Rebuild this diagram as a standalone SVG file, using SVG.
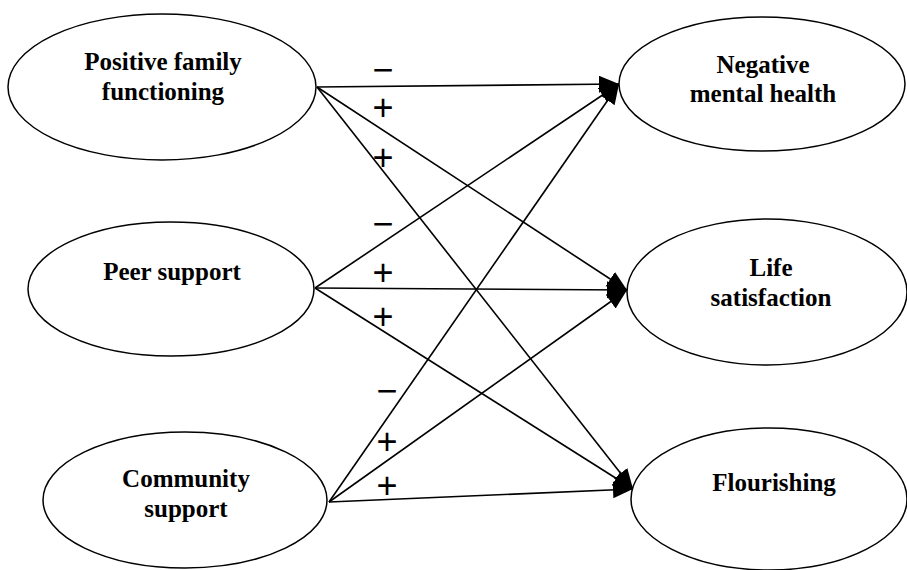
<svg xmlns="http://www.w3.org/2000/svg" width="907" height="570" viewBox="0 0 907 570">
  <style>
    .node ellipse { fill: #fff; stroke: #000; stroke-width: 1.5; }
    .node text { font-family: "Times New Roman", Times, "Liberation Serif", serif; font-weight: bold; font-size: 25px; text-anchor: middle; fill: #000; }
    .edge { stroke: #000; stroke-width: 1.6; fill: none; marker-end: url(#head); }
    .sign { font-family: "Liberation Sans", Arial, sans-serif; font-size: 36px; font-weight: 400; text-anchor: middle; fill: #000; }
  </style>
  <defs>
    <marker id="head" markerUnits="userSpaceOnUse" markerWidth="22" markerHeight="18" refX="20" refY="8.5" orient="auto" viewBox="0 0 22 18">
      <path d="M0,0 L20,8.5 L0,17 z" fill="#000"/>
    </marker>
  </defs>
  <rect width="907" height="570" fill="#fff"/>

  <!-- paths from predictors to outcomes -->
  <g id="connectors">
    <line class="edge" x1="317" y1="87" x2="619" y2="84"/>
    <line class="edge" x1="317" y1="87" x2="627" y2="290"/>
    <line class="edge" x1="317" y1="87" x2="633" y2="489"/>
    <line class="edge" x1="315" y1="288" x2="619" y2="84"/>
    <line class="edge" x1="315" y1="288" x2="627" y2="290"/>
    <line class="edge" x1="315" y1="288" x2="633" y2="489"/>
    <line class="edge" x1="329" y1="502" x2="619" y2="84"/>
    <line class="edge" x1="329" y1="502" x2="627" y2="290"/>
    <line class="edge" x1="329" y1="502" x2="633" y2="489"/>
  </g>

  <!-- effect signs -->
  <g id="signs">
    <text class="sign" x="383" y="82">−</text>
    <text class="sign" x="383" y="120">+</text>
    <text class="sign" x="383" y="170">+</text>
    <text class="sign" x="383" y="236">−</text>
    <text class="sign" x="383" y="285">+</text>
    <text class="sign" x="383" y="329">+</text>
    <text class="sign" x="387" y="403">−</text>
    <text class="sign" x="387" y="454">+</text>
    <text class="sign" x="387" y="498">+</text>
  </g>

  <g id="family" class="node">
    <ellipse cx="162" cy="87" rx="154" ry="73"/>
    <text x="163" y="70">Positive family</text>
    <text x="163" y="100">functioning</text>
  </g>
  <g id="peer" class="node">
    <ellipse cx="171" cy="289" rx="143" ry="67"/>
    <text x="172" y="280">Peer support</text>
  </g>
  <g id="community" class="node">
    <ellipse cx="185" cy="500" rx="142" ry="68"/>
    <text x="186" y="487">Community</text>
    <text x="186" y="517">support</text>
  </g>
  <g id="negative" class="node">
    <ellipse cx="762" cy="84" rx="143" ry="67"/>
    <text x="763" y="73">Negative</text>
    <text x="763" y="102">mental health</text>
  </g>
  <g id="life" class="node">
    <ellipse cx="767" cy="292" rx="140" ry="73"/>
    <text x="771" y="276">Life</text>
    <text x="771" y="306">satisfaction</text>
  </g>
  <g id="flourishing" class="node">
    <ellipse cx="769" cy="499" rx="138" ry="71"/>
    <text x="774" y="491">Flourishing</text>
  </g>
</svg>
